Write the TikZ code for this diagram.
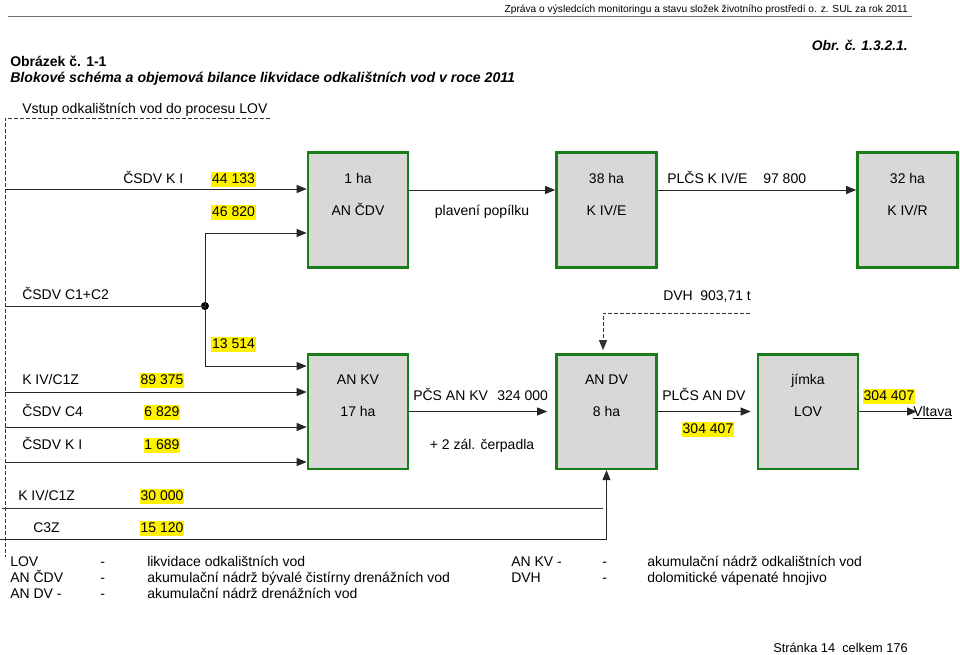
\documentclass[tikz,border=0pt]{standalone}
\usepackage{fontspec}
\setmainfont{Liberation Sans}
\usepackage{tikz}
\usetikzlibrary{arrows.meta,positioning}

\definecolor{tankgreen}{RGB}{25,125,25}
\definecolor{tankgrey}{RGB}{216,216,216}
\newcommand{\mainsz}{\fontsize{10.5}{12.6}\selectfont}

\begin{document}
\begin{tikzpicture}[
    x=0.75pt, y=-0.75pt,
    every node/.style={font=\mainsz, inner sep=0pt},
    tank/.style={draw=tankgreen, line width=2pt, fill=tankgrey, minimum width=75pt, minimum height=86pt},
    txt/.style={anchor=base west},
    ctxt/.style={anchor=base},
    num/.style={fill=yellow, anchor=base, inner xsep=0.5pt, inner ysep=0.5pt, text height=8pt, text depth=2.5pt},
    arrow/.style={-{Triangle[length=7.5pt,width=6pt]}, line width=0.75pt, draw=black!85},
    wire/.style={line width=0.75pt, draw=black!80},
    dashline/.style={dash pattern=on 3pt off 1.5pt, line width=0.6pt, draw=black!80}
]
    \useasboundingbox (0,0) rectangle (960,654);

    % Page header
    \node[font=\fontsize{7.65}{9}\selectfont, anchor=base east] (hdr) at (908,12) {Zpráva o výsledcích monitoringu a stavu složek životního prostředí o. z. SUL za rok 2011};
    \draw[black!55, line width=0.75pt] (8,16) -- (912,16);
    \node[font=\fontsize{10.4}{12.5}\selectfont\bfseries\itshape, anchor=base east] (obr) at (908,50) {Obr. č. 1.3.2.1.};
    \node[font=\mainsz\bfseries, txt] (fig) at (10,66) {Obrázek č. 1-1};
    \node[font=\fontsize{10.6}{12.7}\selectfont\bfseries\itshape, txt] (title) at (10,82) {Blokové schéma a objemová bilance likvidace odkalištních vod v roce 2011};

    % Input line
    \node[txt] (vstup) at (22,113) {Vstup odkalištních vod do procesu LOV};
    \draw[dashline] (270,118) -- (5,118) -- (5,557);

    % Tanks
    \node[tank] (ancdv) at (358,210) {};
    \node[tank] (kive) at (606.5,210) {};
    \node[tank] (kivr) at (907.5,210) {};
    \node[tank] (ankv) at (358,411.5) {};
    \node[tank] (andv) at (606.5,411.5) {};
    \node[tank] (jimka) at (808,411.5) {};

    \node[ctxt] (ancdv1) at (358,183) {1 ha};
    \node[ctxt] (ancdv2) at (358,215) {AN ČDV};
    \node[ctxt] (kive1) at (606.5,183) {38 ha};
    \node[ctxt] (kive2) at (606.5,215) {K IV/E};
    \node[ctxt] (kivr1) at (907.5,183) {32 ha};
    \node[ctxt] (kivr2) at (907.5,215) {K IV/R};
    \node[ctxt] (ankv1) at (358,384) {AN KV};
    \node[ctxt] (ankv2) at (358,416) {17 ha};
    \node[ctxt] (andv1) at (606.5,384) {AN DV};
    \node[ctxt] (andv2) at (606.5,416) {8 ha};
    \node[ctxt] (jimka1) at (808,384) {jímka};
    \node[ctxt] (jimka2) at (808,416) {LOV};

    % Top row
    \coordinate (in1) at (5,189);
    \draw[arrow] (in1) -- (in1 -| ancdv.west);
    \node[txt] (csdvki) at (123,183) {ČSDV K I};
    \node[num] (q1) at (233.5,183) {44 133};
    \node[num] (q2) at (233.5,216) {46 820};

    \coordinate (in2) at (5,306);
    \node[circle, fill=black, minimum size=6pt] (jn) at (205,306) {};
    \node[txt] (csdvc) at (22,299) {ČSDV C1+C2};
    \draw[wire] (in2) -- (jn.center);
    \draw[arrow] (jn.center) |- ([yshift=-17.25pt]ancdv.west);

    \draw[arrow] ([yshift=15pt]ancdv.east) -- ([yshift=15pt]kive.west);
    \node[ctxt] (plav) at (482,215) {plavení popílku};
    \draw[arrow] ([yshift=15pt]kive.east) -- ([yshift=15pt]kivr.west);
    \node[txt] (plcs1) at (667,183) {PLČS K IV/E};
    \node[txt] (q3) at (763,183) {97 800};

    % DVH
    \node[txt] (dvh) at (663,300) {DVH};
    \node[txt] (dvhq) at (700,300) {903,71 t};
    \coordinate (dvhend) at (750,313);
    \draw[dashline, -{Triangle[length=7.5pt,width=6pt]}] (dvhend) -| ([xshift=-2.6pt,yshift=2pt]andv.north);

    % Bottom row
    \draw[arrow] (jn.center) |- ([yshift=34.1pt]ankv.west);
    \node[num] (q4) at (233.5,348) {13 514};

    \coordinate (in3) at (5,392);
    \coordinate (in4) at (5,427);
    \coordinate (in5) at (5,462);
    \draw[arrow] (in3) -- (in3 -| ankv.west);
    \draw[arrow] (in4) -- (in4 -| ankv.west);
    \draw[arrow] (in5) -- (in5 -| ankv.west);
    \node[txt] (kivc1z) at (22,384) {K IV/C1Z};
    \node[num] (q5) at (162,384) {89 375};
    \node[txt] (csdvc4) at (22,416) {ČSDV C4};
    \node[num] (q6) at (162,416) {6 829};
    \node[txt] (csdvki2) at (22,449) {ČSDV K I};
    \node[num] (q7) at (162,449) {1 689};

    \draw[arrow, shorten >=6pt] (ankv.east) -- (andv.west);
    \node[txt] (pcs) at (413,400) {PČS AN KV};
    \node[txt] (q8) at (497,400) {324 000};
    \node[ctxt] (zal) at (482,449) {+ 2 zál. čerpadla};

    \draw[arrow, shorten >=4.5pt] (andv.east) -- (jimka.west);
    \node[txt] (plcs2) at (662,400) {PLČS AN DV};
    \node[num] (q9) at (708,433) {304 407};

    \node[txt] (vltava) at (913,416) {\underline{Vltava}};
    \draw[arrow, shorten >=-3pt] (jimka.east) -- (vltava.west |- jimka.east);
    \node[num] (q10) at (889,400) {304 407};

    % Return lines
    \node[txt] (kivc1z2) at (18,500) {K IV/C1Z};
    \node[num] (q11) at (162,500) {30 000};
    \coordinate (r1s) at (2,508);
    \coordinate (r1e) at (603,508);
    \draw[wire] (r1s) -- (r1e);
    \node[txt] (c3z) at (33,532) {C3Z};
    \node[num] (q12) at (162,532) {15 120};
    \coordinate (r2s) at (0,539);
    \draw[arrow] (r2s) -| (andv.south);

    % Legend
    \node[txt] (lg1a) at (10,566) {LOV};
    \node[txt] (lg1b) at (100,566) {-};
    \node[txt] (lg1c) at (147,566) {likvidace odkalištních vod};
    \node[txt] (lg2a) at (10,582) {AN ČDV};
    \node[txt] (lg2b) at (100,582) {-};
    \node[txt] (lg2c) at (147,582) {akumulační nádrž bývalé čistírny drenážních vod};
    \node[txt] (lg3a) at (10,598) {AN DV -};
    \node[txt] (lg3b) at (100,598) {-};
    \node[txt] (lg3c) at (147,598) {akumulační nádrž drenážních vod};
    \node[txt] (lg4a) at (511,566) {AN KV -};
    \node[txt] (lg4b) at (602,566) {-};
    \node[txt] (lg4c) at (647,566) {akumulační nádrž odkalištních vod};
    \node[txt] (lg5a) at (511,582) {DVH};
    \node[txt] (lg5b) at (602,582) {-};
    \node[txt] (lg5c) at (647,582) {dolomitické vápenaté hnojivo};

    % Footer
    \node[font=\fontsize{9.6}{11.5}\selectfont, anchor=base east] (foot) at (908,652) {Stránka 14\ \ celkem 176};
\end{tikzpicture}
\end{document}
